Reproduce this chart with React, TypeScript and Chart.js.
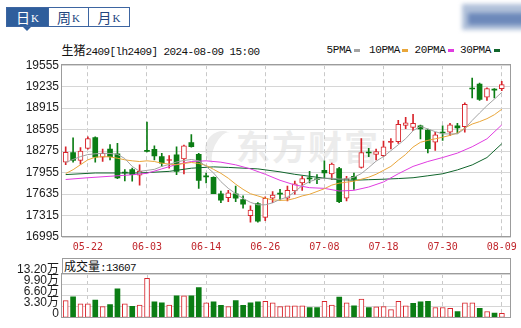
import React, { useEffect, useRef } from 'react';
import { Chart, registerables } from 'chart.js';
Chart.register(...registerables);

const DATES = ['05-17','05-20','05-21','05-22','05-23','05-24','05-27','05-28','05-29','05-30','05-31','06-03','06-04','06-05','06-06','06-07','06-11','06-12','06-13','06-14','06-17','06-18','06-19','06-20','06-21','06-24','06-25','06-26','06-27','06-28','07-01','07-02','07-03','07-04','07-05','07-08','07-09','07-10','07-11','07-12','07-15','07-16','07-17','07-18','07-19','07-22','07-23','07-24','07-25','07-26','07-29','07-30','07-31','08-01','08-02','08-05','08-06','08-07','08-08','08-09'];
const X_TICK_DATES = ['05-22','06-03','06-14','06-26','07-08','07-18','07-30','08-09'];

const OPEN = [18110,18252,18135,18315,18477,18183,18306,18233,17962,17998,17915,18285,18301,18193,18135,18218,18160,18403,18227,17905,17886,17640,17582,17640,17552,17313,17494,17288,17573,17650,17573,17680,17802,17875,17862,17988,17934,18013,17573,17900,18032,18262,18227,18208,18405,18414,18658,18629,18653,18590,18409,18560,18556,18653,18638,19215,19275,19078,19198,19206];
const HIGH = [18340,18472,18326,18487,18487,18306,18374,18389,18000,18022,18072,18707,18355,18242,18208,18340,18365,18521,18242,17949,17890,17680,17690,17753,17607,17460,17508,17592,17670,17705,17753,17827,17900,17973,17925,18130,18095,18032,17900,17949,18462,18315,18306,18424,18462,18732,18780,18824,18663,18604,18556,18653,18688,18688,18996,19363,19290,19216,19206,19313];
const LOW = [18072,18110,18081,18305,18110,18120,18145,17866,17830,17827,17768,18262,18145,18047,18022,17924,17934,18335,17720,17802,17640,17508,17523,17523,17426,17215,17215,17240,17508,17544,17533,17632,17690,17802,17788,17875,17852,17508,17533,17705,18022,18193,18145,18193,18306,18389,18609,18579,18458,18248,18286,18433,18506,18541,18556,19069,19030,19030,19069,19176];
const CLOSE = [18257,18135,18277,18462,18183,18242,18193,17875,17950,17925,17973,18270,18204,18095,18150,17973,18355,18340,17837,17890,17640,17544,17655,17572,17485,17397,17230,17573,17621,17635,17690,17787,17866,17860,17848,17949,18081,17523,17866,17852,18252,18247,18267,18340,18420,18673,18697,18688,18604,18311,18516,18545,18668,18619,18971,19200,19044,19206,19184,19265];
const VOLUME = [51700,63000,42400,42400,53700,33900,39600,87600,42400,34800,38700,118700,48000,45200,38700,65900,65900,65900,91300,45200,48000,37700,33900,51700,37700,45200,48000,50000,45200,33900,35800,35800,35800,31100,31100,50000,38700,62200,45200,35800,56500,31100,33000,33900,24600,50000,35800,43300,48000,50000,31100,31100,28300,18900,45200,45200,28300,18900,14100,13607];

const MA5 = [18106,18150,18193,18223,18235,18242,18240,18227,18164,18047,17973,17988,18003,18047,18076,18113,18135,18150,18130,18047,17950,17820,17720,17640,17570,17511,17475,17475,17504,17555,17590,17670,17760,17820,17857,17871,17871,17857,17863,17886,17940,18030,18125,18193,18281,18369,18460,18579,18644,18604,18565,18531,18531,18531,18609,18732,18843,18952,19049,19150];
const MA10 = [17940,17998,18072,18145,18183,18193,18188,18169,18145,18130,18120,18130,18120,18095,18081,18072,18091,18106,18091,18061,18003,17944,17871,17782,17705,17640,17607,17573,17548,17541,17544,17570,17607,17632,17673,17714,17768,17797,17812,17827,17856,17886,17930,17988,18047,18140,18225,18335,18406,18435,18458,18482,18509,18546,18619,18678,18714,18758,18817,18898];
const MA20 = [17852,null,null,17878,null,null,17900,null,null,17922,null,17944,null,18010,null,18076,null,18120,null,18130,null,18110,null,18070,null,18010,null,17930,null,17840,null,17770,null,17730,null,17720,null,17680,null,17690,null,17740,null,17815,null,17937,null,18047,null,18120,null,18179,null,18245,null,18340,null,18458,null,18665];
const MA30 = [17925,null,null,null,17949,null,null,null,null,null,17949,null,null,null,17973,null,null,18020,null,null,18040,null,18032,null,null,null,18010,null,null,17966,null,17929,null,17900,null,17871,null,17849,null,17841,null,17849,null,17856,null,17866,null,17878,null,17907,null,17937,null,17995,null,18069,null,18179,null,18384];

const PRICE_TICKS = [16995,17315,17635,17955,18275,18595,18915,19235,19555];
const VOL_TICKS = [0,33000,66000,99000,132000];

const RED = '#d8242b';
const GREEN = '#0b7d14';
const MA_COLORS = ['#a3a3a3', '#e9a63a', '#e03ce0', '#11652c'];
const FRAME = '#9c9c9c';

const X_TICKS = X_TICK_DATES.map((d) => DATES.indexOf(d));
const X_MIN = -0.5;
const X_MAX = 60.23;

const framePlugin = {
  id: 'frame',
  afterDraw(chart: any) {
    const { ctx, chartArea } = chart;
    const l = Math.round(chartArea.left) - 0.5;
    const t = Math.round(chartArea.top) - 0.5;
    const r = Math.round(chartArea.right) - 0.5;
    const b = Math.round(chartArea.bottom) - 0.5;
    ctx.save();
    ctx.strokeStyle = FRAME;
    ctx.lineWidth = 1;
    ctx.strokeRect(l, t, r - l, b - t);
    ctx.restore();
  },
};

const isUp = (i: number) => CLOSE[i] >= OPEN[i];
const volUp = (i: number) => (i === 0 ? true : CLOSE[i] >= CLOSE[i - 1]);

function maDataset(values: (number | null)[], color: string) {
  return {
    type: 'line' as const,
    data: values.map((v, i) => ({ x: i, y: v })),
    borderColor: color,
    borderWidth: 1,
    pointRadius: 0,
    tension: 0,
    spanGaps: true,
    order: 0,
  };
}

function xScale(showLabels: boolean, height: number) {
  return {
    type: 'linear',
    min: X_MIN,
    max: X_MAX,
    offset: false,
    afterBuildTicks: (s: any) => {
      s.ticks = X_TICKS.map((v) => ({ value: v }));
    },
    afterFit: (s: any) => {
      s.height = height;
    },
    ticks: {
      display: showLabels,
      autoSkip: false,
      maxRotation: 0,
      padding: 4,
      color: '#c0262c',
      font: { family: '"DejaVu Sans Mono"', size: 10 },
      callback: (v: any) => DATES[v] ?? '',
    },
    grid: { color: '#c9c9c9', drawTicks: false, offset: false },
    border: { display: false, dash: [4, 3] },
  };
}

function MainChart() {
  const ref = useRef<HTMLCanvasElement>(null);
  useEffect(() => {
    const idx = DATES.map((_, i) => i);
    const chart = new Chart(ref.current!, {
      type: 'bar',
      data: {
        datasets: [
          maDataset(MA5, MA_COLORS[0]),
          maDataset(MA10, MA_COLORS[1]),
          maDataset(MA20, MA_COLORS[2]),
          maDataset(MA30, MA_COLORS[3]),
          {
            type: 'bar',
            data: idx.map((i) => ({ x: i, y: [OPEN[i], CLOSE[i]] })),
            grouped: false,
            barThickness: 5,
            order: 1,
            backgroundColor: idx.map((i) => (isUp(i) ? (Math.abs(CLOSE[i] - OPEN[i]) < 25 ? RED : '#ffffff') : GREEN)),
            borderColor: idx.map((i) => (isUp(i) ? RED : GREEN)),
            borderWidth: idx.map((i) => (isUp(i) ? 1 : 0)),
            borderSkipped: false,
          } as any,
          {
            type: 'bar',
            data: idx.map((i) => ({ x: i, y: [LOW[i], HIGH[i]] })),
            grouped: false,
            barThickness: 1,
            order: 2,
            backgroundColor: idx.map((i) => (isUp(i) ? RED : GREEN)),
            borderWidth: 0,
          } as any,
        ],
      },
      options: {
        responsive: false,
        animation: false,
        events: [],
        layout: { padding: { left: 0, right: 10, top: 8, bottom: 0 } },
        plugins: { legend: { display: false }, tooltip: { enabled: false } },
        scales: {
          x: xScale(true, 18),
          y: {
            type: 'linear',
            min: PRICE_TICKS[0],
            max: PRICE_TICKS[PRICE_TICKS.length - 1],
            afterBuildTicks: (s: any) => {
              s.ticks = PRICE_TICKS.map((v) => ({ value: v }));
            },
            afterFit: (s: any) => {
              s.width = 62;
            },
            ticks: {
              autoSkip: false,
              padding: 3,
              color: '#1c1c1c',
              font: { family: '"Liberation Sans"', size: 12 },
              callback: (v: any) => String(v),
            },
            grid: { color: '#d6d6d6', drawTicks: false },
            border: { display: false },
          },
        },
      } as any,
      plugins: [framePlugin],
    });
    return () => chart.destroy();
  }, []);
  return <canvas ref={ref} width={521} height={200} style={{ position: 'absolute', left: 0, top: 55, width: 521, height: 200 }} />;
}

function VolumeChart() {
  const ref = useRef<HTMLCanvasElement>(null);
  useEffect(() => {
    const idx = DATES.map((_, i) => i);
    const chart = new Chart(ref.current!, {
      type: 'bar',
      data: {
        datasets: [
          {
            data: idx.map((i) => ({ x: i, y: VOLUME[i] })),
            barThickness: 5,
            backgroundColor: idx.map((i) => (volUp(i) ? '#ffffff' : GREEN)),
            borderColor: idx.map((i) => (volUp(i) ? RED : GREEN)),
            borderWidth: idx.map((i) => (volUp(i) ? 1 : 0)),
            borderSkipped: false,
          } as any,
        ],
      },
      options: {
        responsive: false,
        animation: false,
        events: [],
        layout: { padding: { left: 0, right: 10, top: 19, bottom: 7 } },
        plugins: { legend: { display: false }, tooltip: { enabled: false } },
        scales: {
          x: xScale(false, 0),
          y: {
            type: 'linear',
            min: VOL_TICKS[0],
            max: VOL_TICKS[VOL_TICKS.length - 1],
            afterBuildTicks: (s: any) => {
              s.ticks = VOL_TICKS.map((v) => ({ value: v }));
            },
            afterFit: (s: any) => {
              s.width = 62;
            },
            ticks: {
              autoSkip: false,
              padding: 3,
              labelOffset: -4,
              color: '#1c1c1c',
              font: { family: '"Liberation Sans", "Noto Sans CJK SC"', size: 12 },
              callback: (v: any) => (v === 0 ? '0' : (v / 10000).toFixed(2) + '万'),
            },
            grid: { color: '#d6d6d6', drawTicks: false },
            border: { display: false },
          },
        },
      } as any,
      plugins: [framePlugin],
    });
    return () => chart.destroy();
  }, []);
  return <canvas ref={ref} width={521} height={73} style={{ position: 'absolute', left: 0, top: 255, width: 521, height: 73 }} />;
}

const mono: React.CSSProperties = { fontFamily: '"Liberation Mono", monospace', fontSize: 11, letterSpacing: -0.6 };
const cjk: React.CSSProperties = { fontFamily: '"Noto Sans CJK SC"', fontSize: 12 };

function Tab({ left, width, label, active }: { left: number; width: number; label: string; active?: boolean }) {
  return (
    <div
      style={{
        position: 'absolute',
        left,
        top: 7,
        width,
        height: 20,
        boxSizing: 'border-box',
        border: '1px solid #3d65a1',
        background: active ? '#2f5e9c' : '#ffffff',
        color: active ? '#ffffff' : '#22457e',
        display: 'flex',
        alignItems: 'center',
        justifyContent: 'center',
        whiteSpace: 'nowrap',
      }}
    >
      <span style={{ fontFamily: '"Noto Sans CJK SC"', fontSize: 14, lineHeight: '16px' }}>{label}</span>
      <span style={{ fontFamily: '"Liberation Serif", serif', fontSize: 11, lineHeight: '16px', marginLeft: 1, marginTop: 2 }}>K</span>
    </div>
  );
}

export default function App() {
  const legend = [
    { t: '5PMA', x: 326.5, d: 354 },
    { t: '10PMA', x: 369, d: 402 },
    { t: '20PMA', x: 414.5, d: 448 },
    { t: '30PMA', x: 460, d: 494 },
  ];
  return (
    <div style={{ position: 'absolute', left: 0, top: 0, width: 521, height: 328, background: '#fff', overflow: 'hidden' }}>
      <Tab left={6} width={43} label="日" active />
      <Tab left={48} width={41} label="周" />
      <Tab left={88} width={42} label="月" />
      <div style={{ position: 'absolute', left: 23, top: 27, width: 0, height: 0, borderLeft: '4px solid transparent', borderRight: '4px solid transparent', borderTop: '4px solid #2f5e9c' }} />

      <div style={{ position: 'absolute', left: 462, top: 4, width: 70, height: 26, background: '#b1c1da', filter: 'blur(2px)' }} />
      <div style={{ position: 'absolute', left: 468, top: 13, width: 60, height: 12, background: '#6d89ba', filter: 'blur(2px)' }} />

      <div style={{ position: 'absolute', left: 61.5, top: 43, lineHeight: '14px', whiteSpace: 'nowrap', color: '#111' }}>
        <span style={cjk}>生猪</span>
        <span style={mono}>2409[lh2409] 2024-08-09 15:00</span>
      </div>
      {legend.map((l, k) => (
        <React.Fragment key={l.t}>
          <div style={{ position: 'absolute', left: l.x, top: 43, lineHeight: '14px', whiteSpace: 'nowrap', color: '#111', ...mono, letterSpacing: -0.4 }}>{l.t}</div>
          <div style={{ position: 'absolute', left: l.d, top: 49, width: 6, height: 3, background: MA_COLORS[k] }} />
        </React.Fragment>
      ))}

      <div style={{ position: 'absolute', left: 205, top: 131, width: 26, height: 36, borderRadius: '50%', borderLeft: '9px solid #ececec', transform: 'rotate(25deg)' }} />
      <div style={{ position: 'absolute', left: 236, top: 126, fontFamily: '"Noto Sans CJK SC"', fontWeight: 700, fontSize: 34, letterSpacing: 2, lineHeight: '40px', color: '#ececec', whiteSpace: 'nowrap' }}>东方财富</div>

      <MainChart />

      <div style={{ position: 'absolute', left: 61.5, top: 257.5, width: 449.5, height: 17, boxSizing: 'border-box', borderTop: `1px solid ${FRAME}`, borderLeft: `1px solid ${FRAME}`, borderRight: `1px solid ${FRAME}` }} />
      <div style={{ position: 'absolute', left: 64, top: 259, lineHeight: '14px', whiteSpace: 'nowrap', color: '#111' }}>
        <span style={cjk}>成交量</span>
        <span style={mono}>:13607</span>
      </div>
      <VolumeChart />
    </div>
  );
}
